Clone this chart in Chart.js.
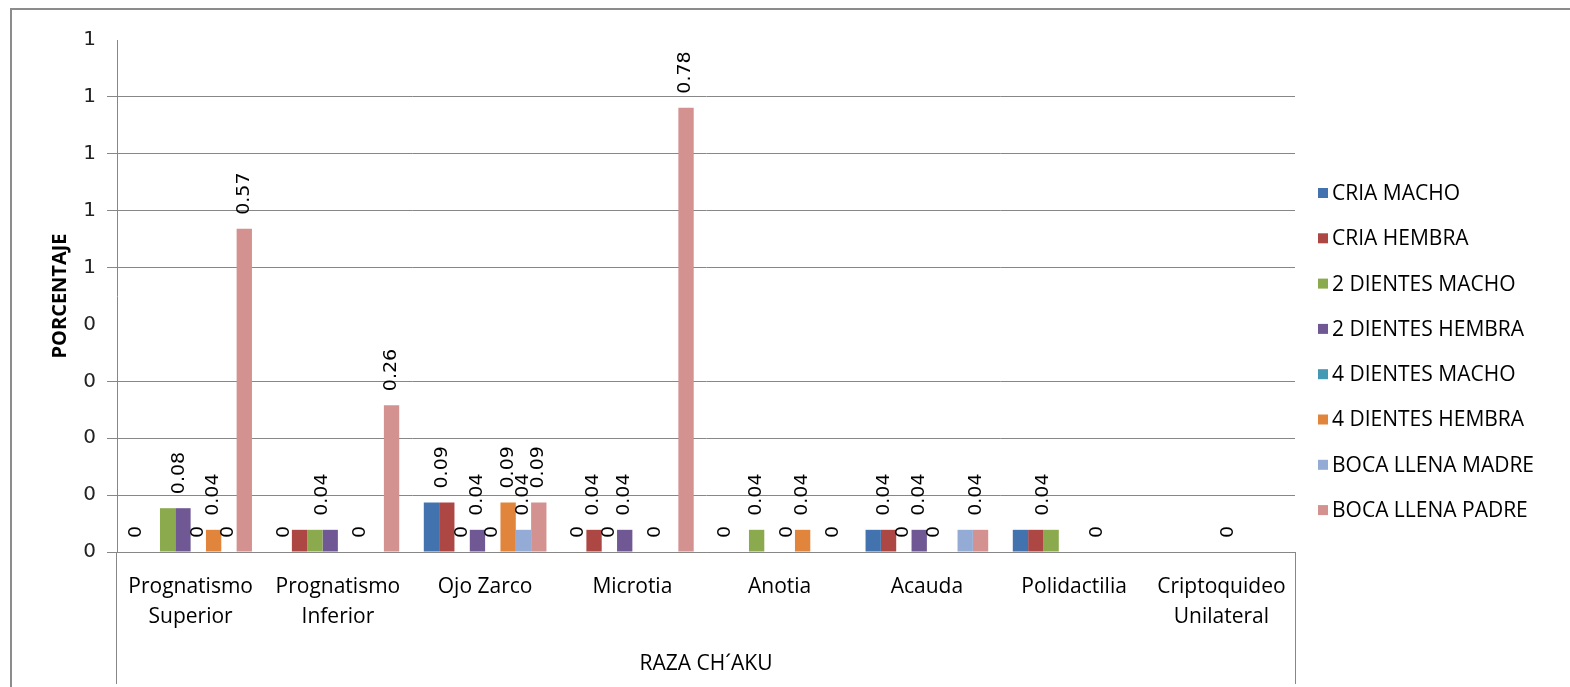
<!DOCTYPE html>
<html>
<head>
<meta charset="utf-8">
<script src="https://cdn.jsdelivr.net/npm/chart.js@4"></script>
<style>
  html, body { margin: 0; padding: 0; background: #fff; overflow: hidden; }
  #wrap { position: relative; width: 1570px; height: 687px; }
</style>
</head>
<body>
<div id="wrap"><canvas id="chart" width="1570" height="687"></canvas></div>
<script>
const categories = [
    ["Prognatismo", "Superior"],
    ["Prognatismo", "Inferior"],
    "Ojo Zarco",
    "Microtia",
    "Anotia",
    "Acauda",
    "Polidactilia",
    ["Criptoquideo", "Unilateral"]
];

const seriesNames = [
    "CRIA MACHO", "CRIA HEMBRA", "2 DIENTES MACHO", "2 DIENTES HEMBRA",
    "4 DIENTES MACHO", "4 DIENTES HEMBRA", "BOCA LLENA MADRE", "BOCA LLENA PADRE"
];

// null = no bar and no label in the original
const criaMacho      = [0,     0,     0.087, 0,     0,     0.039, 0.039, null];
const criaHembra     = [null,  0.039, 0.087, 0.039, null,  0.039, 0.039, null];
const dosMacho       = [0.077, 0.039, 0,     0,     0.039, 0,     0.039, null];
const dosHembra      = [0.077, 0.039, 0.039, 0.039, null,  0.039, null,  null];
const cuatroMacho    = [0,     null,  0,     null,  0,     0,     null,  0];
const cuatroHembra   = [0.039, 0,     0.087, 0,     0.039, null,  0,     null];
const bocaLlenaMadre = [0,     null,  0.039, null,  null,  0.039, null,  null];
const bocaLlenaPadre = [0.568, 0.258, 0.087, 0.781, 0,     0.039, null,  null];

const yTicks = [0, 0.1, 0.2, 0.3, 0.4, 0.5, 0.6, 0.7, 0.8, 0.9];

const colors = ["#4373AE", "#AD4744", "#8BAA4E", "#705895", "#4399B3", "#E0853B", "#93ABD5", "#D39190"];
const seriesData = [criaMacho, criaHembra, dosMacho, dosHembra, cuatroMacho, cuatroHembra, bocaLlenaMadre, bocaLlenaPadre];

const gridColor = "#878787";

function fmt(v) {
    return v === 0 ? "0" : v.toFixed(2);
}

const extras = {
    id: "extras",
    beforeDraw(chart) {
        const ctx = chart.ctx;
        ctx.save();
        ctx.strokeStyle = "#8c8c8c";
        ctx.lineWidth = 2;
        ctx.strokeRect(11, 9, 1620, 720);
        ctx.restore();
    },
    afterDatasetsDraw(chart) {
        const ctx = chart.ctx;
        const n = chart.data.datasets.length;
        ctx.save();
        ctx.fillStyle = "#000";
        ctx.font = "17px 'DejaVu Sans'";
        ctx.textAlign = "left";
        ctx.textBaseline = "middle";
        categories.forEach((c, i) => {
            for (let d = 0; d < n; d++) {
                const v = chart.data.datasets[d].data[i];
                if (v === null) continue;
                // adjacent equal bars share one label
                if (d + 1 < n && chart.data.datasets[d + 1].data[i] === v) continue;
                let first = d;
                while (first > 0 && chart.data.datasets[first - 1].data[i] === v) first--;
                const lastBar = chart.getDatasetMeta(d).data[i];
                const firstBar = chart.getDatasetMeta(first).data[i];
                const x = (firstBar.x + 3 * lastBar.x) / 4;
                const y = lastBar.y - 14;
                ctx.save();
                ctx.translate(x, y);
                ctx.rotate(-Math.PI / 2);
                ctx.scale(1.12, 1);
                ctx.fillText(fmt(v), 0, 0);
                ctx.restore();
            }
        });
        ctx.restore();
    },
    afterDraw(chart) {
        const ctx = chart.ctx;
        const a = chart.chartArea;
        ctx.save();
        ctx.strokeStyle = gridColor;
        ctx.lineWidth = 1;
        ctx.beginPath();
        ctx.moveTo(Math.round(a.left) - 0.5, a.bottom);
        ctx.lineTo(Math.round(a.left) - 0.5, 684);
        ctx.moveTo(Math.round(a.right) + 0.5, a.bottom);
        ctx.lineTo(Math.round(a.right) + 0.5, 684);
        ctx.stroke();

        ctx.font = "21px 'Open Sans'";
        ctx.textAlign = "left";
        ctx.textBaseline = "middle";
        chart.data.datasets.forEach((ds, i) => {
            const y = 193 + i * 45.3;
            ctx.fillStyle = ds.backgroundColor;
            ctx.fillRect(1318, y - 5, 10, 10);
            ctx.fillStyle = "#000";
            ctx.fillText(ds.label, 1332, y + 1);
        });
        ctx.restore();
    }
};

new Chart(document.getElementById("chart"), {
    type: "bar",
    data: {
        labels: categories,
        datasets: seriesNames.map((name, i) => ({
            label: name,
            data: seriesData[i],
            backgroundColor: colors[i],
            borderWidth: 0,
            categoryPercentage: 0.833,
            barPercentage: 1.0
        }))
    },
    options: {
        responsive: false,
        animation: false,
        events: [],
        layout: { padding: { left: 0, top: 40, right: 275, bottom: 0 } },
        plugins: {
            legend: { display: false },
            tooltip: { enabled: false }
        },
        scales: {
            x: {
                grid: { display: false, drawTicks: false, tickLength: 0 },
                border: { display: true, color: gridColor, width: 1 },
                ticks: {
                    color: "#000",
                    font: { family: "'Open Sans'", size: 21, lineHeight: 1.43 },
                    padding: 20,
                    maxRotation: 0,
                    autoSkip: false
                },
                title: {
                    display: true,
                    text: "RAZA CH´AKU",
                    color: "#000",
                    font: { family: "'Open Sans'", size: 21 },
                    padding: { top: 0, bottom: 10 }
                },
                afterFit: s => { s.height = 135; }
            },
            y: {
                min: 0,
                max: 0.9,
                afterBuildTicks: s => { s.ticks = yTicks.map(v => ({ value: v })); },
                grid: {
                    color: c => {
                        const v = Math.round(c.tick.value * 10) / 10;
                        return (v === 0.4 || v === 0.9) ? "rgba(0,0,0,0)" : gridColor;
                    },
                    tickLength: 10,
                    drawTicks: true
                },
                border: { display: true, color: gridColor, width: 1 },
                ticks: {
                    color: "#222",
                    font: { family: "'DejaVu Sans'", size: 20 },
                    padding: 11,
                    callback: v => String(Math.round(Math.round(v * 10) / 10))
                },
                title: {
                    display: true,
                    text: "PORCENTAJE",
                    color: "#000",
                    font: { family: "'Open Sans'", size: 20, weight: "bold" },
                    padding: { top: 48, bottom: 0 }
                },
                afterFit: s => { s.width = 117; }
            }
        }
    },
    plugins: [extras]
});
</script>
</body>
</html>
